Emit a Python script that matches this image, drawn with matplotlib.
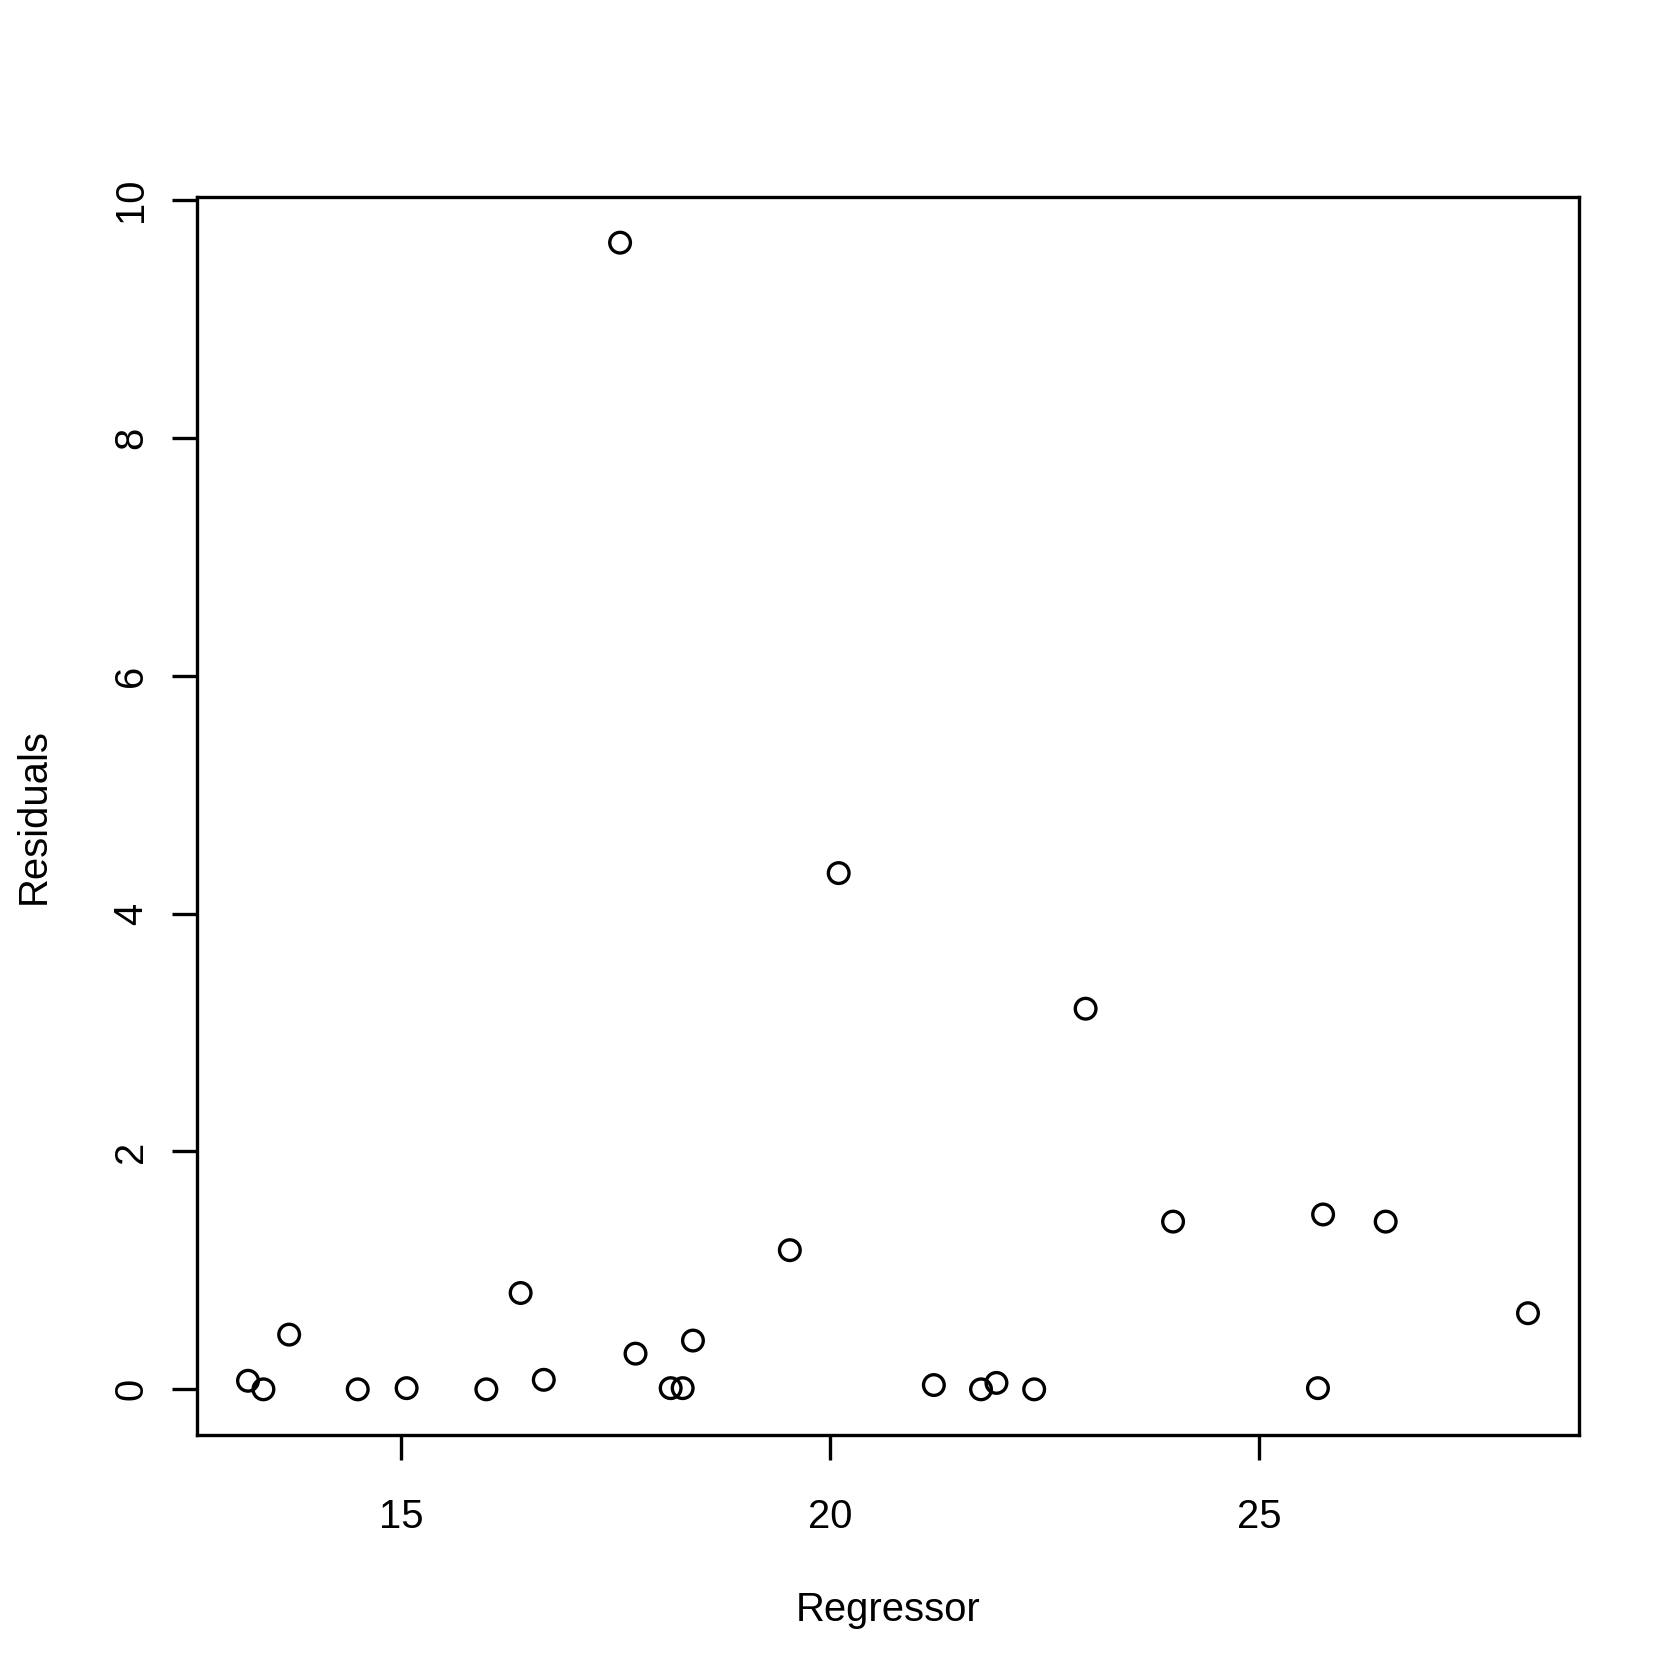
import matplotlib
matplotlib.use("Agg")
import matplotlib.pyplot as plt

regressor = [13.21, 13.39, 13.69, 14.49, 15.06, 15.99, 16.39, 16.66, 17.55, 17.73,
             18.14, 18.28, 18.40, 19.53, 20.10, 21.21, 21.76, 21.94, 22.38, 22.98,
             24.00, 25.69, 25.75, 26.48, 28.14]
residuals = [0.072, 0.0, 0.46, 0.0, 0.01, 0.0, 0.81, 0.08, 9.64, 0.30,
             0.01, 0.01, 0.41, 1.17, 4.34, 0.036, 0.0, 0.054, 0.0, 3.20,
             1.41, 0.01, 1.47, 1.41, 0.64]
xticks = [15, 20, 25]
yticks = [0, 2, 4, 6, 8, 10]

plt.rcParams['font.family'] = ['Liberation Sans', 'DejaVu Sans']
fig = plt.figure(figsize=(7, 7), dpi=240)
ax = fig.add_axes([0.82/7, 1.02/7, 1 - (0.82+0.42)/7, 1 - (1.02+0.82)/7])

ax.scatter(regressor, residuals, s=6.2**2, facecolors='none', edgecolors='black', linewidths=1.0)

def padded(vals):
    lo, hi = min(vals), max(vals)
    d = (hi - lo) * 0.04
    return lo - d, hi + d

ax.set_xlim(*padded(regressor))
ax.set_ylim(*padded(residuals))
ax.set_xticks(xticks)
ax.set_xticklabels([str(v) for v in xticks])
ax.set_yticks(yticks)
ax.set_yticklabels([str(v) for v in yticks], rotation=90, va='center')
ax.tick_params(direction='out', length=7.5, width=1.0, labelsize=12)
ax.tick_params(axis='x', pad=11.3)
ax.tick_params(axis='y', pad=6.5)
for s in ax.spines.values():
    s.set_linewidth(1.0)

ax.annotate('Regressor', xy=(0.5, 0), xycoords='axes fraction', xytext=(0, -46.7),
            textcoords='offset points', ha='center', va='top', fontsize=12)
ax.annotate('Residuals', xy=(0, 0.5), xycoords='axes fraction', xytext=(-43.2, 0),
            textcoords='offset points', ha='right', va='center', rotation=90, fontsize=12)

fig.savefig('out.png', dpi=240)
